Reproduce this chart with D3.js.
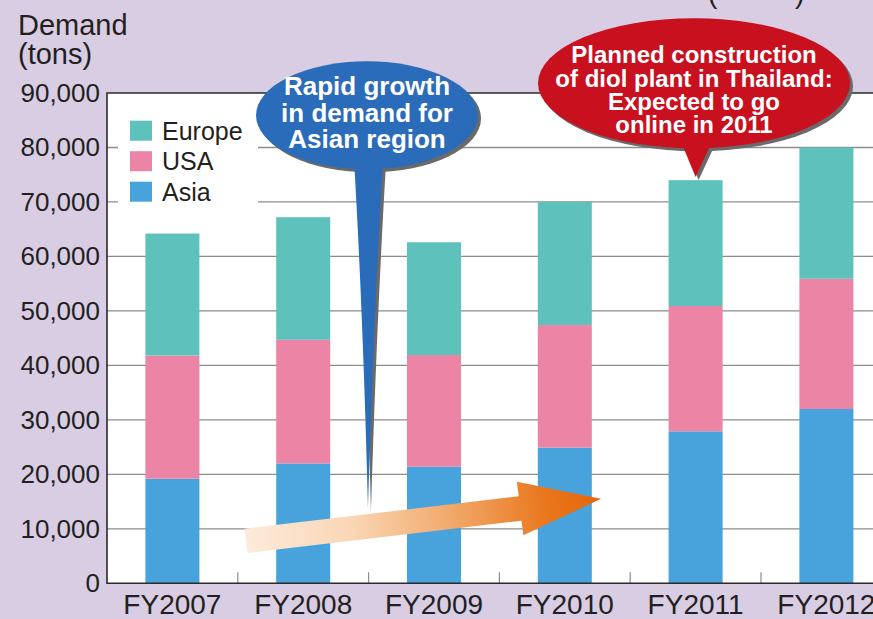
<!DOCTYPE html>
<html>
<head>
<meta charset="utf-8">
<script src="https://cdn.jsdelivr.net/npm/d3@7"></script>
<style>
  html, body { margin: 0; padding: 0; background: #d9cde3; }
  svg { display: block; font-family: "Liberation Sans", Arial, Helvetica, sans-serif; }
</style>
</head>
<body>
<svg id="chart" width="873" height="619"></svg>
<script>
// Demand by region, tons
const categories = ["FY2007", "FY2008", "FY2009", "FY2010", "FY2011", "FY2012"];
const asia   = [19200, 22000, 21400, 24900, 27900, 32000];
const usa    = [22600, 22700, 20500, 22500, 23000, 23900];
const europe = [22400, 22500, 20700, 22600, 23100, 24100];
const yTicks = [0, 10000, 20000, 30000, 40000, 50000, 60000, 70000, 80000, 90000];
const seriesKeys = ["Asia", "USA", "Europe"];
const legendOrder = ["Europe", "USA", "Asia"];
const colors = { Europe: "#5fc1bc", USA: "#ec84a6", Asia: "#48a3dc" };

const blueNote = ["Rapid growth", "in demand for", "Asian region"];
const redNote = ["Planned construction", "of diol plant in Thailand:", "Expected to go", "online in 2011"];

const W = 873, H = 619;
const plot = { left: 107, top: 93, bottom: 583.3, right: 891.8 };

const svg = d3.select("#chart");

const rows = categories.map((c, i) => ({ cat: c, Asia: asia[i], USA: usa[i], Europe: europe[i] }));
const stacked = d3.stack().keys(seriesKeys)(rows);

const x = d3.scaleBand().domain(categories)
  .range([plot.left, plot.right])
  .paddingInner(0.587).paddingOuter(0.2935);
const y = d3.scaleLinear().domain([0, 90000]).range([plot.bottom, plot.top]);
// position at a fractional category index (0 = centre of first category)
const xAt = i => plot.left + (i + 0.5) * x.step();

// background
svg.append("rect").attr("width", W).attr("height", H).attr("fill", "#d9cde3");
svg.append("rect")
  .attr("x", plot.left).attr("y", plot.top)
  .attr("width", W - plot.left).attr("height", plot.bottom - plot.top)
  .attr("fill", "#ffffff");

// grid lines
svg.append("g").selectAll("line")
  .data(yTicks.filter(d => d > 0 && d < 90000))
  .join("line")
  .attr("x1", plot.left).attr("x2", W)
  .attr("y1", d => y(d)).attr("y2", d => y(d))
  .attr("stroke", "#8c8c8c").attr("stroke-width", 1.3);

// legend panel hides the grid behind it
svg.append("rect")
  .attr("x", 118).attr("y", 100).attr("width", 140).attr("height", 110)
  .attr("fill", "#ffffff");

// stacked bars
svg.append("g").selectAll("g")
  .data(stacked)
  .join("g")
  .attr("fill", d => colors[d.key])
  .selectAll("rect")
  .data(d => d)
  .join("rect")
  .attr("x", d => x(d.data.cat))
  .attr("width", x.bandwidth())
  .attr("y", d => y(d[1]))
  .attr("height", d => y(d[0]) - y(d[1]));

// category separator ticks on the baseline
const gap = (x.step() - x.bandwidth()) / 2;
svg.append("g").selectAll("line")
  .data(categories.slice(1))
  .join("line")
  .attr("x1", d => x(d) - gap).attr("x2", d => x(d) - gap)
  .attr("y1", plot.bottom).attr("y2", plot.bottom - 11)
  .attr("stroke", "#8c8c8c").attr("stroke-width", 1.2);

// frame
svg.append("path")
  .attr("d", `M${W},${plot.top}H${plot.left}V${plot.bottom}H${W}`)
  .attr("fill", "none").attr("stroke", "#2b2b2b").attr("stroke-width", 1.6);

// y axis labels
const yAxis = svg.append("g")
  .attr("transform", `translate(${plot.left},0)`)
  .call(d3.axisLeft(y).tickValues(yTicks).tickSize(0).tickPadding(7).tickFormat(d3.format(",")));
yAxis.select(".domain").remove();
yAxis.selectAll("text")
  .attr("font-size", 26).attr("fill", "#231f20")
  .attr("font-family", "'Liberation Sans', Arial, sans-serif");

// x axis labels
const xAxis = svg.append("g")
  .attr("transform", `translate(0,${plot.bottom})`)
  .call(d3.axisBottom(x).tickSize(0).tickPadding(11));
xAxis.select(".domain").remove();
xAxis.selectAll("text")
  .attr("font-size", 28).attr("fill", "#231f20")
  .attr("font-family", "'Liberation Sans', Arial, sans-serif");

// axis title
svg.append("text").attr("x", 18).attr("y", 35)
  .attr("font-size", 29).attr("fill", "#231f20").text("Demand");
svg.append("text").attr("x", 18).attr("y", 64)
  .attr("font-size", 29).attr("fill", "#231f20").text("(tons)");
svg.append("text").attr("x", 708).attr("y", 3)
  .attr("font-size", 28).attr("fill", "#231f20")
  .style("white-space", "pre").text("(          )");

// legend
const lg = svg.append("g").selectAll("g")
  .data(legendOrder)
  .join("g")
  .attr("transform", (d, i) => `translate(130,${120.7 + i * 30.5})`);
lg.append("rect").attr("width", 22).attr("height", 20).attr("fill", d => colors[d]);
lg.append("text").attr("x", 32).attr("y", 19)
  .attr("font-size", 25).attr("fill", "#231f20").text(d => d);

// growth arrow
const tail = [xAt(0.563), y(7780)];
const tip = [xAt(3.277), y(15500)];
const L = Math.hypot(tip[0] - tail[0], tip[1] - tail[1]);
const ang = Math.atan2(tip[1] - tail[1], tip[0] - tail[0]) * 180 / Math.PI;
const sh = 12.3, hh = 27, hl = 81.5;
const defs = svg.append("defs");
const grad = defs.append("linearGradient").attr("id", "arrowGrad")
  .attr("gradientUnits", "userSpaceOnUse")
  .attr("x1", 0).attr("y1", 0).attr("x2", L).attr("y2", 0);
grad.selectAll("stop")
  .data([[0, "#fdeadb"], [0.3, "#f9d6b5"], [0.6, "#f1a565"], [0.85, "#e9761c"], [1, "#e3660a"]])
  .join("stop")
  .attr("offset", d => d[0]).attr("stop-color", d => d[1]);
svg.append("path")
  .attr("transform", `translate(${tail[0]},${tail[1]}) rotate(${ang})`)
  .attr("d", d3.line()([[0, -sh], [L - hl, -sh], [L - hl, -hh], [L, 0], [L - hl, hh], [L - hl, sh], [0, sh]]) + "Z")
  .attr("fill", "url(#arrowGrad)");

// callout bubbles
function callout(cfg) {
  const g = svg.append("g");
  const shape = (sel, fill, dx, dy) => {
    const s = sel.append("g").attr("transform", `translate(${dx},${dy})`).attr("fill", fill);
    s.append("ellipse").attr("cx", cfg.cx).attr("cy", cfg.cy).attr("rx", cfg.rx).attr("ry", cfg.ry);
    s.append("path").attr("d", cfg.tail);
  };
  shape(g, "#6a6a6a", 3, 3);
  shape(g, cfg.fill, 0, 0);
  g.append("g").selectAll("text")
    .data(cfg.lines)
    .join("text")
    .attr("x", cfg.cx)
    .attr("y", (d, i) => cfg.firstBaseline + i * cfg.lineGap)
    .attr("text-anchor", "middle")
    .attr("font-size", cfg.fontSize)
    .attr("font-weight", "bold")
    .attr("fill", "#ffffff")
    .text(d => d);
}

const bcx = xAt(1.488), bcy = y(85900);
const btip = [xAt(1.495), y(13800)];
callout({
  cx: bcx, cy: bcy, rx: 111, ry: 54, fill: "#2a6cb9",
  tail: `M${bcx - 13},${bcy + 45} Q${btip[0] - 5},${(bcy + btip[1]) / 2} ${btip[0]},${btip[1]} Q${btip[0] + 6},${(bcy + btip[1]) / 2} ${bcx + 16},${bcy + 45} Z`,
  lines: blueNote, firstBaseline: bcy - 20, lineGap: 26.5, fontSize: 26
});

const rcx = xAt(3.988), rcy = y(91800);
const rtip = [xAt(4.0), y(europe[4] + usa[4] + asia[4] + 600)];
callout({
  cx: rcx, cy: rcy, rx: 156, ry: 65, fill: "#c8101f",
  tail: `M${rtip[0] - 16},${rcy + 55} L${rtip[0]},${rtip[1]} L${rtip[0] + 18},${rcy + 55} Z`,
  lines: redNote, firstBaseline: rcy - 20, lineGap: 23.4, fontSize: 24
});
</script>
</body>
</html>
